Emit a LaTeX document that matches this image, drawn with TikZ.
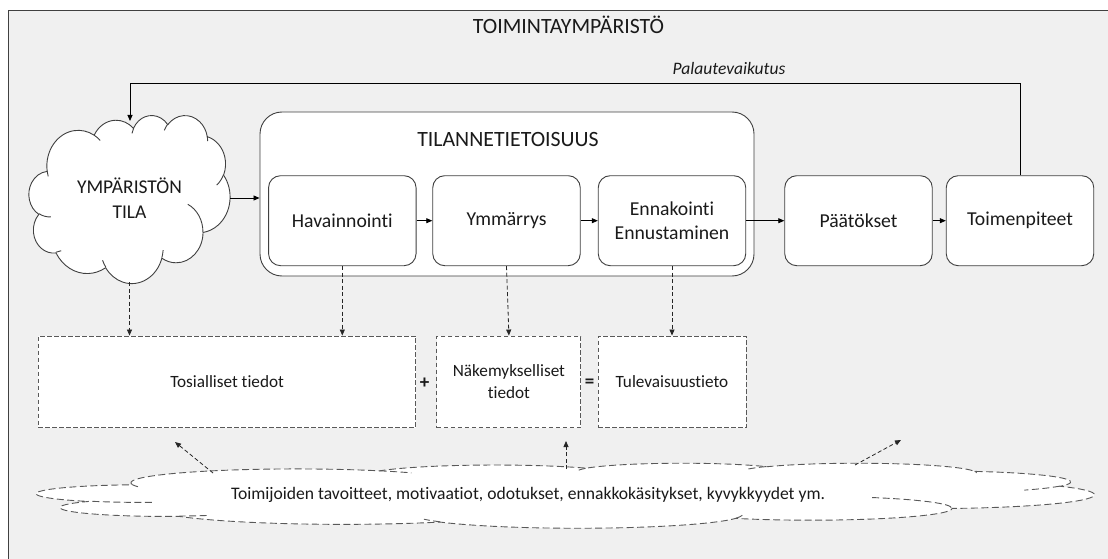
\documentclass[tikz,border=0pt]{standalone}
\usepackage{fontspec}
\setmainfont{Carlito}[Ligatures=NoCommon]
\usetikzlibrary{arrows.meta}
\definecolor{bg}{HTML}{F0F0F0}
\definecolor{edge}{HTML}{404040}
\definecolor{dashc}{HTML}{595959}
\definecolor{txt}{HTML}{1A1A1A}

% DrawingML-style arcTo: wR hR stAng swAng (degrees, visual angles)
\newcommand\ooarc[4]{%
  \pgfmathsetmacro\ooa{#3}%
  \pgfmathsetmacro\oob{#3+#4}%
  \pgfmathsetmacro\oota{atan2(#1*sin(\ooa),#2*cos(\ooa))}%
  \pgfmathsetmacro\ootb{atan2(#1*sin(\oob),#2*cos(\oob))}%
  \pgfmathsetmacro\ootb{\oota+mod(\ootb-(\oota)+720,360)}%
  \xdef\ooresult{arc[start angle=\oota, end angle=\ootb, x radius=#1, y radius=#2]}%
}
\ooarc{67.53}{91.90}{-190.487}{123.781}\global\let\cldA\ooresult
\ooarc{53.33}{72.67}{-144.102}{89.945}\global\let\cldB\ooresult
\ooarc{43.65}{59.45}{-145.808}{99.723}\global\let\cldC\ooresult
\ooarc{48.57}{65.95}{-130.986}{117.242}\global\let\cldD\ooresult
\ooarc{53.33}{72.73}{-78.709}{109.027}\global\let\cldE\ooresult
\ooarc{67.75}{92.20}{-46.267}{130.269}\global\let\cldF\ooresult
\ooarc{57.85}{78.67}{0.625}{114.033}\global\let\cldG\ooresult
\ooarc{67.52}{92.15}{22.452}{115.173}\global\let\cldH\ooresult
\ooarc{77.20}{105.43}{66.243}{75.711}\global\let\cldI\ooresult
\ooarc{43.60}{59.18}{-274.942}{146.736}\global\let\cldJ\ooresult
\ooarc{43.45}{59.45}{-246.829}{152.519}\global\let\cldK\ooresult
\ooarc{43.45}{59.45}{86.742}{26.430}\global\let\crlA\ooresult
\ooarc{43.60}{59.18}{73.610}{11.447}\global\let\crlB\ooresult
\ooarc{67.52}{92.15}{137.624}{14.081}\global\let\crlC\ooresult
\ooarc{67.52}{92.15}{6.453}{15.998}\global\let\crlD\ooresult
\ooarc{57.85}{78.67}{-70.292}{70.917}\global\let\crlE\ooresult
\ooarc{53.33}{72.73}{30.318}{27.752}\global\let\crlF\ooresult
\ooarc{48.57}{65.95}{-13.744}{14.850}\global\let\crlG\ooresult
\ooarc{48.57}{65.95}{-149.181}{18.195}\global\let\crlH\ooresult
\ooarc{43.65}{59.45}{-163.494}{17.686}\global\let\crlI\ooresult
\ooarc{67.53}{91.90}{-66.707}{12.319}\global\let\crlJ\ooresult
\ooarc{67.53}{91.90}{157.654}{11.858}\global\let\crlK\ooresult
\newcommand\cloudoutline{(39,143.7) \cldA \cldB \cldC \cldD \cldE \cldF \cldG \cldH \cldI \cldJ \cldK -- cycle}
\newcommand\cloudcurls{(46.93,261.77) \crlA (69.28,348.99) \crlB (164.78,390.90) \crlC (288.27,347.51) \crlD (341.29,229.54) \crlE (417.98,153.54) \crlF (383.24,54.26) \crlG (290.78,39.52) \crlH (221.41,47.20) \crlI (140.00,51.92) \crlJ (41.27,157.89) \crlK}

\begin{document}
\begin{tikzpicture}[x=1pt,y=-1pt,
  conn/.style={draw=black, line width=0.8pt, -{Triangle[length=6pt,width=5pt]}},
  dconn/.style={draw=black!85, line width=0.8pt, dash pattern=on 4pt off 2.5pt, -{Triangle[length=6pt,width=5pt]}},
  rbox/.style={draw=edge, fill=white, line width=0.9pt, rounded corners=12pt, minimum width=147.5pt, minimum height=90pt, align=center, inner sep=0pt, font=\fontsize{19.7}{24}\selectfont, text=txt},
  dbox/.style={draw=dashc, fill=white, line width=0.9pt, dash pattern=on 4.5pt off 2.5pt, minimum height=91.5pt, align=center, inner sep=0pt, font=\fontsize{17.2}{22}\selectfont, text=txt},
  ttl/.style={font=\fontsize{21.8}{25}\selectfont, text=txt, inner sep=0pt}
]
\useasboundingbox (0,0) rectangle (1108,559);
\fill[white] (0,0) rectangle (1108,559);
\draw[edge, fill=bg, line width=0.9pt] (8,10) rectangle (1130,580);

% clouds
\begin{scope}[shift={(29pt,-115pt)}, x=0.46528pt, y=-0.38889pt]
  \filldraw[draw=edge, fill=white, line width=0.9pt] \cloudoutline;
  \draw[edge, line width=0.9pt] \cloudcurls;
\end{scope}
\begin{scope}[shift={(37pt,-463pt)}, x=2.44676pt, y=-0.150463pt]
  \filldraw[draw=dashc, fill=white, line width=0.9pt, dash pattern=on 7pt off 3.5pt] \cloudoutline;
  \draw[dashc, line width=0.9pt, dash pattern=on 7pt off 3.5pt] \cloudcurls;
\end{scope}

\node[ttl] (title) at (568.5,25) {TOIMINTAYMPÄRISTÖ};
\node[font=\fontsize{17.5}{20}\selectfont\itshape, text=txt, inner sep=0pt] (pal) at (729,68) {Palautevaikutus};

\node[minimum width=201pt, minimum height=168pt, inner sep=0pt, align=center,
      font=\fontsize{19.5}{25.6}\selectfont, text=txt] (env) at (129.5,198) {YMPÄRISTÖN\\TILA};

\node[draw=edge, fill=white, line width=0.9pt, rounded corners=22pt,
      minimum width=494pt, minimum height=164pt, inner sep=0pt] (big) at (507,194) {};
\node[ttl] (bigt) at (508,139.5) {TILANNETIETOISUUS};

\node[rbox] (hav) at (342.3,220.7) {Havainnointi};
\node[rbox] (ymm) at (506.5,220.7) {Ymmärrys};
\node[rbox] (enn) at (672,220.7) {Ennakointi\\Ennustaminen};
\node[rbox] (pat) at (858.5,220.7) {Päätökset};
\node[rbox] (toi) at (1020,220.7) {Toimenpiteet};

\node[dbox, minimum width=377.4pt] (tos) at (227.1,381.75) {Tosialliset tiedot};
\node[dbox, minimum width=144pt] (nak) at (508.9,381.75) {Näkemykselliset\\tiedot};
\node[dbox, minimum width=148pt] (tul) at (672,381.75) {Tulevaisuustieto};
\node[font=\fontsize{19}{20}\selectfont\bfseries, text=txt, inner sep=0pt] (plus) at (424.5,383) {+};
\node[font=\fontsize{19}{20}\selectfont\bfseries, text=txt, inner sep=0pt] (eq) at (589.5,383) {=};

\node[font=\fontsize{17.6}{21}\selectfont, text=txt, inner sep=0pt] (act) at (528,495)
  {Toimijoiden tavoitteet, motivaatiot, odotukset, ennakkokäsitykset, kyvykkyydet ym.};

% connectors
\coordinate (fbc) at (130,83);
\coordinate (envtop) at (130,121);
\draw[conn] (toi.north) |- (fbc) -- (envtop);
\draw[conn] (env.east) -- (env.east -| big.west);
\draw[conn] (hav) -- (ymm);
\draw[conn] (ymm) -- (enn);
\draw[conn] (enn) -- (pat);
\draw[conn] (pat) -- (toi);

\draw[dconn] (env.south) -- (env.south |- tos.north);
\draw[dconn] (hav.south) -- (hav.south |- tos.north);
\draw[dconn] (ymm.south) -- (nak.north);
\draw[dconn] (enn.south) -- (tul.north);

\coordinate (s1) at (213,473); \coordinate (e1) at (175,442);
\coordinate (s2) at (566,469); \coordinate (e2) at (566,441);
\coordinate (s3) at (855,465); \coordinate (e3) at (901,440);
\draw[dconn] (s1) -- (e1);
\draw[dconn] (s2) -- (e2);
\draw[dconn] (s3) -- (e3);
\end{tikzpicture}
\end{document}
